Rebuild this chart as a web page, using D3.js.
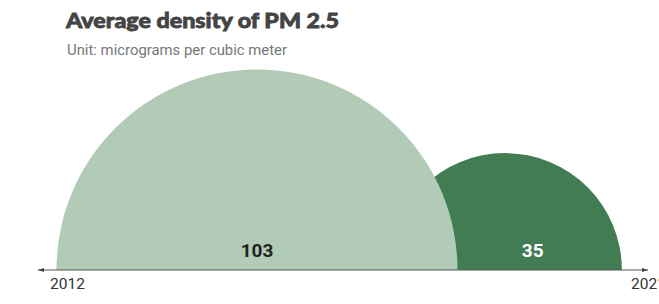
<!DOCTYPE html>
<html>
<head>
<meta charset="utf-8">
<script src="https://cdn.jsdelivr.net/npm/d3@7"></script>
<style>
  html, body { margin: 0; padding: 0; background: #fff; overflow: hidden; }
  svg { display: block; }
</style>
</head>
<body>
<svg id="chart" width="659" height="304"></svg>
<script>
const years = ["2012", "2021"];
const values = [103, 35];
const colors = ["#b1cbb6", "#417c53"];
const labelColors = ["#222222", "#ffffff"];
const title = "Average density of PM 2.5";
const subtitle = "Unit: micrograms per cubic meter";

const svg = d3.select("#chart");
const baseY = 270;

const x = d3.scalePoint().domain(years).range([257, 505]);
const r = d3.scaleSqrt().domain([0, 103]).range([0, 200.5]);

const data = years.map((y, i) => ({ year: y, value: values[i], color: colors[i], lc: labelColors[i] }));

const arc = d3.arc().innerRadius(0).startAngle(-Math.PI / 2).endAngle(Math.PI / 2);

// draw later years first so 2012 is on top
svg.append("g").selectAll("path")
  .data(data.slice().reverse())
  .join("path")
  .attr("transform", d => `translate(${x(d.year)},${baseY})`)
  .attr("d", d => arc({ outerRadius: r(d.value) }))
  .attr("fill", d => d.color);

// value labels
svg.append("g").selectAll("text")
  .data(data)
  .join("text")
  .attr("x", (d, i) => i === 0 ? x(d.year) : (x(data[0].year) + r(data[0].value) + x(d.year) + r(d.value)) / 2 - 7)
  .attr("y", 257)
  .attr("text-anchor", "middle")
  .attr("font-family", "Roboto, 'Liberation Sans', sans-serif")
  .attr("font-weight", 700)
  .attr("font-size", 19)
  .attr("fill", d => d.lc)
  .text(d => d.value);

// axis line with arrows
const defs = svg.append("defs");
defs.append("marker").attr("id", "arrEnd").attr("viewBox", "0 0 10 10")
  .attr("refX", 10).attr("refY", 5).attr("markerWidth", 6).attr("markerHeight", 6)
  .attr("markerUnits", "userSpaceOnUse").attr("orient", "auto")
  .append("path").attr("d", "M0,1.5L10,5L0,8.5Z").attr("fill", "#444");
defs.append("marker").attr("id", "arrStart").attr("viewBox", "0 0 10 10")
  .attr("refX", 10).attr("refY", 5).attr("markerWidth", 6).attr("markerHeight", 6)
  .attr("markerUnits", "userSpaceOnUse").attr("orient", "auto-start-reverse")
  .append("path").attr("d", "M0,1.5L10,5L0,8.5Z").attr("fill", "#444");

svg.append("line")
  .attr("x1", 38).attr("x2", 648)
  .attr("y1", baseY).attr("y2", baseY)
  .attr("stroke", "#555").attr("stroke-width", 1)
  .attr("marker-start", "url(#arrStart)")
  .attr("marker-end", "url(#arrEnd)");

// year labels at axis ends
const yearX = [50, 631];
svg.append("g").selectAll("text")
  .data(years)
  .join("text")
  .attr("x", (d, i) => yearX[i])
  .attr("y", 289)
  .attr("font-family", "Roboto, 'Liberation Sans', sans-serif")
  .attr("font-size", 15.5)
  .attr("fill", "#333")
  .text(d => d);

// title & subtitle
svg.append("text")
  .attr("x", 66).attr("y", 28)
  .attr("font-family", "Lato, 'Open Sans', sans-serif")
  .attr("font-weight", 900)
  .attr("font-size", 21)
  .attr("fill", "#444")
  .attr("stroke", "#444")
  .attr("stroke-width", 0.8)
  .attr("textLength", 273)
  .attr("lengthAdjust", "spacingAndGlyphs")
  .text(title);

svg.append("text")
  .attr("x", 67).attr("y", 55)
  .attr("font-family", "Roboto, sans-serif")
  .attr("font-size", 15)
  .attr("fill", "#777")
  .attr("textLength", 220)
  .attr("lengthAdjust", "spacingAndGlyphs")
  .text(subtitle);
</script>
</body>
</html>
